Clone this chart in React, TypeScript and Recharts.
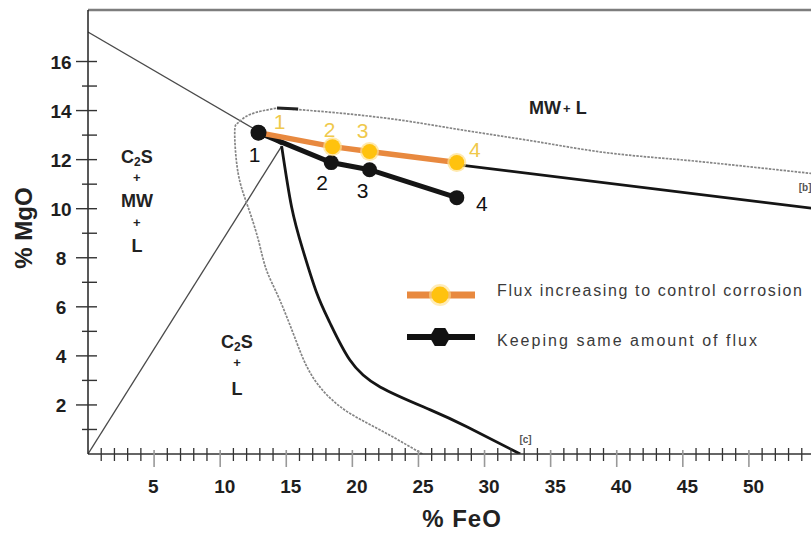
import {
  ComposedChart,
  Legend,
  Line,
  ReferenceDot,
  XAxis,
  YAxis,
} from "recharts";

const FONT = '"Liberation Sans", Arial, sans-serif';
const ORANGE = "#E8893F";
const GOLD = "#FFC20E";
const INK = "#151515";
const DOTTED = "#858585";

// slag paths (% FeO, % MgO)
const fluxUpName = "Flux increasing to control corrosion";
const fluxUpFeO = [12.9, 18.5, 21.3, 27.9];
const fluxUpMgO = [13.1, 12.53, 12.33, 11.88];
const sameFluxName = "Keeping same amount of flux";
const sameFluxFeO = [12.9, 18.4, 21.3, 27.9];
const sameFluxMgO = [13.1, 11.88, 11.59, 10.45];
const pointNumbers = ["1", "2", "3", "4"];

// phase boundaries
const c2sMwFeO = [0, 14.65];
const c2sMwMgO = [17.2, 12.6];
const c2sLFeO = [0, 14.65];
const c2sLMgO = [0, 12.55];
const liquidusFeO = [32.7, 28.7, 25.9, 22.1, 19.8, 18.3, 17.3, 16.25, 15.4, 14.65];
const liquidusMgO = [0, 1.1, 1.8, 2.73, 3.84, 5.35, 6.57, 8.33, 10.08, 12.55];
const dottedFeO = [25.3, 22.1, 19.1, 17.0, 15.8, 14.5, 13.5, 12.9, 12.1, 11.35, 11.1, 11.35, 12.25, 14.3];
const dottedMgO = [0, 0.98, 1.92, 3.14, 4.53, 6.29, 7.5, 8.7, 10.08, 11.47, 13.1, 13.5, 13.84, 14.1];
const mwTopFeO = [14.3, 15.9, 23.4, 28.4, 33.4, 38.7, 46.3, 55];
const mwTopMgO = [14.1, 14.04, 13.63, 13.2, 12.78, 12.32, 11.92, 11.42];
const mwLineFeO = [27.9, 55];
const mwLineMgO = [11.8, 10.0];
const capFeO = [14.3, 15.9];
const capMgO = [14.1, 14.06];

// axes
const feoTicks = Array.from({ length: 54 }, (_, i) => i + 1);
const feoTickLabels = [5, 10, 15, 20, 25, 30, 35, 40, 45, 50];
const mgoTicks = Array.from({ length: 16 }, (_, i) => i + 1);
const mgoTickLabels = [2, 4, 6, 8, 10, 12, 14, 16];

// label nudges (px) for the point numbers
const fluxUpNudge = [[21, -11], [-3, -17], [-7, -21], [18, -13]];
const sameFluxNudge = [[-4, 22], [-9, 20], [-7, 21], [25, 6]];

const zip = (xs: number[], ys: number[], tags?: string[]) =>
  xs.map((x, i) => ({ x, y: ys[i], n: tags ? tags[i] : undefined }));

const renderFeoTick = ({ x, y, payload }: any) => {
  const v = payload.value as number;
  const major = feoTickLabels.includes(v);
  return (
    <g>
      <line
        x1={x}
        x2={x}
        y1={y - (major ? 4 : 6)}
        y2={y + (major ? 13 : 7)}
        stroke={major ? "#999" : "#333"}
        strokeWidth={major ? 1.6 : 1.3}
      />
      {major && (
        <text x={x - 6} y={y + 39} fontSize={19} fontWeight={700} fill="#1e1e1e" fontFamily={FONT}>
          {v}
        </text>
      )}
    </g>
  );
};

const renderMgoTick = ({ x, y, payload }: any) => {
  const v = payload.value as number;
  const major = mgoTickLabels.includes(v);
  return (
    <g>
      <line x1={x - (major ? 12 : 6)} x2={x + 9} y1={y} y2={y} stroke="#333" strokeWidth={1.4} />
      {major && (
        <text x={x - 27} y={y + 7} textAnchor="middle" fontSize={19} fontWeight={700} fill="#1e1e1e" fontFamily={FONT}>
          {v}
        </text>
      )}
    </g>
  );
};

const renderRightTick = ({ x, y, payload }: any) => {
  const major = mgoTickLabels.includes(payload.value);
  return <line x1={x - (major ? 13 : 7)} x2={x} y1={y} y2={y} stroke="#555" strokeWidth={1.3} />;
};

const renderFeoTitle = () => (
  <text x={462} y={527} textAnchor="middle" fontSize={24} letterSpacing={1} fontWeight={700} fill="#222" fontFamily={FONT}>
    % FeO
  </text>
);

const renderMgoTitle = () => (
  <text
    x={23}
    y={228}
    transform="rotate(-90 23 228)"
    textAnchor="middle"
    dominantBaseline="central"
    fontSize={24}
    fontWeight={700}
    fill="#222"
    fontFamily={FONT}
  >
    % MgO
  </text>
);

const numberText = (x: number, y: number, s: string, color: string) => (
  <text x={x} y={y} textAnchor="middle" dominantBaseline="central" fontSize={21} fill={color} fontFamily={FONT}>
    {s}
  </text>
);

const renderFluxUpDot = (p: any) => {
  const [dx, dy] = fluxUpNudge[p.index];
  return (
    <g key={`fu${p.index}`}>
      {p.index === 0 ? (
        <circle cx={p.cx} cy={p.cy} r={8} fill={INK} />
      ) : (
        <>
          <circle cx={p.cx} cy={p.cy} r={9.5} fill="#FFE08A" opacity={0.7} />
          <circle cx={p.cx} cy={p.cy} r={7.5} fill={GOLD} />
        </>
      )}
      {numberText(p.cx + dx, p.cy + dy, p.payload.n, "#EFC94C")}
    </g>
  );
};

const renderSameFluxDot = (p: any) => {
  const [dx, dy] = sameFluxNudge[p.index];
  return (
    <g key={`sf${p.index}`}>
      <circle cx={p.cx} cy={p.cy} r={7.5} fill={INK} />
      {numberText(p.cx + dx, p.cy + dy, p.payload.n, "#111")}
    </g>
  );
};

const boldText = { fontWeight: 700, fill: "#222", fontFamily: FONT } as const;

const C2S = ({ x, y }: { x: number; y: number }) => (
  <text x={x} y={y} textAnchor="middle" dominantBaseline="central" fontSize={18} {...boldText}>
    C<tspan fontSize={12} dy={5}>2</tspan>
    <tspan dy={-5}>S</tspan>
  </text>
);

const Plus = ({ x, y }: { x: number; y: number }) => (
  <text x={x} y={y} textAnchor="middle" dominantBaseline="central" fontSize={13} {...boldText}>
    +
  </text>
);

const Word = ({ x, y, s }: { x: number; y: number; s: string }) => (
  <text x={x} y={y} textAnchor="middle" dominantBaseline="central" fontSize={18} {...boldText}>
    {s}
  </text>
);

const renderMwL = ({ cx, cy }: any) => (
  <text x={cx} y={cy} textAnchor="middle" dominantBaseline="central" fontSize={18} {...boldText}>
    MW<tspan fontSize={13} dx={2}>+</tspan>
    <tspan dx={5}>L</tspan>
  </text>
);

const renderUpperStack = ({ cx, cy }: any) => (
  <g>
    <C2S x={cx} y={cy} />
    <Plus x={cx} y={cy + 20} />
    <Word x={cx} y={cy + 44} s="MW" />
    <Plus x={cx} y={cy + 65} />
    <Word x={cx} y={cy + 89} s="L" />
  </g>
);

const renderLowerStack = ({ cx, cy }: any) => (
  <g>
    <C2S x={cx} y={cy} />
    <Plus x={cx} y={cy + 21} />
    <Word x={cx} y={cy + 47} s="L" />
  </g>
);

const tinyTag = (s: string) => ({ cx, cy }: any) => (
  <text x={cx} y={cy} textAnchor="middle" dominantBaseline="central" fontSize={10} fontWeight={700} fill="#555" fontFamily={FONT}>
    {s}
  </text>
);

const hex = (cx: number, cy: number, r: number) =>
  [0, 60, 120, 180, 240, 300]
    .map((a) => `${cx + r * Math.cos((a * Math.PI) / 180)},${cy + r * Math.sin((a * Math.PI) / 180)}`)
    .join(" ");

const renderLegend = () => (
  <svg width={420} height={84} style={{ display: "block" }}>
    <line x1={12} x2={80} y1={23} y2={23} stroke={ORANGE} strokeWidth={7} />
    <circle cx={45} cy={23} r={11} fill="#FFE08A" opacity={0.6} />
    <circle cx={45} cy={23} r={8.5} fill={GOLD} />
    <text x={102} y={18} dominantBaseline="central" fontSize={16} fill="#3a3a3a" fontFamily={FONT} textLength={305} lengthAdjust="spacing">
      {fluxUpName}
    </text>
    <line x1={12} x2={80} y1={65} y2={65} stroke="#111" strokeWidth={6} />
    <polygon points={hex(45, 65, 10.5)} fill="#111" />
    <text x={102} y={68} dominantBaseline="central" fontSize={16} fill="#3a3a3a" fontFamily={FONT} textLength={260} lengthAdjust="spacing">
      {sameFluxName}
    </text>
  </svg>
);

const boundary = (key: string, data: any[], stroke: string, width: number, type: any, dash?: string) => (
  <Line
    key={key}
    data={data}
    dataKey="y"
    type={type}
    stroke={stroke}
    strokeWidth={width}
    strokeDasharray={dash}
    dot={false}
    activeDot={false}
    legendType="none"
    isAnimationActive={false}
  />
);

export default function App() {
  return (
    <div
      style={{
        position: "fixed",
        left: 0,
        top: 0,
        width: 811,
        height: 533,
        overflow: "hidden",
        background: "#fff",
      }}
    >
      <ComposedChart width={830} height={533} margin={{ top: 0, right: 0, bottom: 0, left: 0 }}>
        <XAxis
          dataKey="x"
          type="number"
          domain={[0, 55]}
          allowDataOverflow
          ticks={feoTicks}
          interval={0}
          tickSize={0}
          tickMargin={0}
          tickLine={false}
          tick={renderFeoTick}
          height={79}
          axisLine={{ stroke: "#333", strokeWidth: 1.5 }}
          label={renderFeoTitle}
        />
        <XAxis
          xAxisId="top"
          orientation="top"
          type="number"
          domain={[0, 55]}
          height={10}
          tick={false}
          tickLine={false}
          axisLine={{ stroke: "#7d7d7d", strokeWidth: 2.5 }}
        />
        <YAxis
          type="number"
          domain={[0, 18.1]}
          allowDataOverflow
          ticks={mgoTicks}
          interval={0}
          width={88}
          tickSize={0}
          tickMargin={0}
          tickLine={false}
          tick={renderMgoTick}
          axisLine={{ stroke: "#222", strokeWidth: 1.5 }}
          label={renderMgoTitle}
        />
        <YAxis
          yAxisId="right"
          orientation="right"
          type="number"
          domain={[0, 18.1]}
          ticks={mgoTicks}
          interval={0}
          width={15}
          tickSize={0}
          tickMargin={0}
          tickLine={false}
          tick={renderRightTick}
          axisLine={false}
        />

        {boundary("c2sMw", zip(c2sMwFeO, c2sMwMgO), "#4a4a4a", 1.3, "linear")}
        {boundary("c2sL", zip(c2sLFeO, c2sLMgO), "#4a4a4a", 1.3, "linear")}
        {boundary("dotted", zip(dottedFeO, dottedMgO), DOTTED, 1.7, "natural", "2.5 1.2")}
        {boundary("mwTop", zip(mwTopFeO, mwTopMgO), DOTTED, 1.7, "monotone", "2.5 1.2")}
        {boundary("cap", zip(capFeO, capMgO), "#222", 3, "linear")}
        {boundary("liquidus", zip(liquidusFeO, liquidusMgO), INK, 2.8, "natural")}
        {boundary("mwLine", zip(mwLineFeO, mwLineMgO), INK, 2.8, "linear")}

        <ReferenceDot x={35.55} y={14.1} r={0} shape={renderMwL} />
        <ReferenceDot x={3.7} y={12.1} r={0} shape={renderUpperStack} />
        <ReferenceDot x={11.27} y={4.57} r={0} shape={renderLowerStack} />
        <ReferenceDot x={54.25} y={10.85} r={0} shape={tinyTag("[b]")} />
        <ReferenceDot x={33.1} y={0.6} r={0} shape={tinyTag("[c]")} />

        <Line
          name={sameFluxName}
          data={zip(sameFluxFeO, sameFluxMgO, pointNumbers)}
          dataKey="y"
          type="linear"
          stroke={INK}
          strokeWidth={5}
          dot={renderSameFluxDot}
          activeDot={false}
          isAnimationActive={false}
        />
        <Line
          name={fluxUpName}
          data={zip(fluxUpFeO, fluxUpMgO, pointNumbers)}
          dataKey="y"
          type="linear"
          stroke={ORANGE}
          strokeWidth={5.5}
          dot={renderFluxUpDot}
          activeDot={false}
          isAnimationActive={false}
        />

        <Legend
          layout="vertical"
          align="center"
          verticalAlign="middle"
          wrapperStyle={{ left: 395, top: 272, width: 420, height: 84 }}
          content={renderLegend}
        />
      </ComposedChart>
    </div>
  );
}
